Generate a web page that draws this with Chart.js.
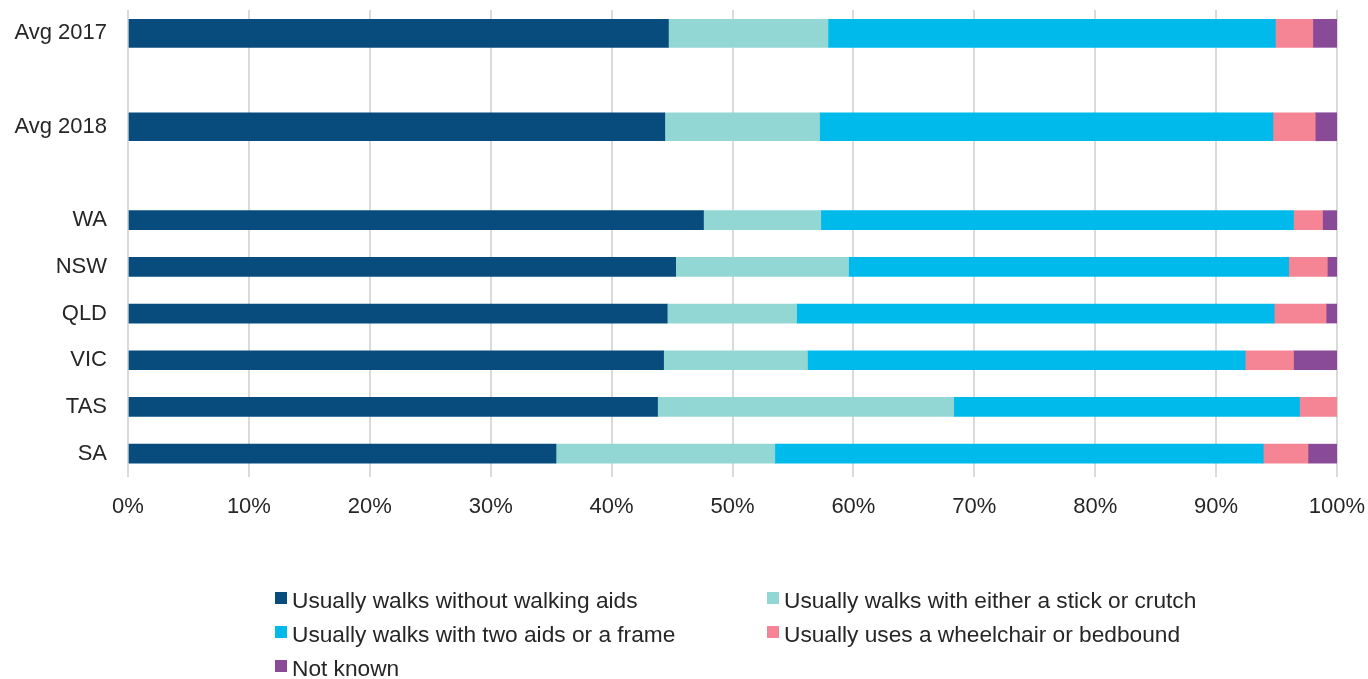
<!DOCTYPE html>
<html>
<head>
<meta charset="utf-8">
<script src="https://cdn.jsdelivr.net/npm/chart.js@4.4.1/dist/chart.umd.min.js"></script>
<style>
  html, body { margin: 0; padding: 0; background: #fff; }
  #wrap { position: relative; width: 1368px; height: 679px; }
  #chart { position: absolute; left: 0; top: 0; }
  .legend { position: absolute; font-family: 'Liberation Sans', Arial, sans-serif; font-size: 22.7px; color: #262626; }
  .legend .item { position: absolute; display: flex; align-items: center; white-space: nowrap; height: 24px; }
  .legend .sw { width: 12px; height: 12px; margin-right: 5px; margin-top: -4px; }
</style>
</head>
<body>
<div id="wrap">
  <canvas id="chart" width="1368" height="679"></canvas>
  <div class="legend" id="legend"></div>
</div>
<script>
// Category rows (blank ones are the gaps between groups)
const categories = ['Avg 2017', '', 'Avg 2018', '', 'WA', 'NSW', 'QLD', 'VIC', 'TAS', 'SA'];

// Share of patients (%) per category
const noAids      = [44.7, null, 44.4, null, 47.6, 45.3, 44.6, 44.3, 43.8, 35.4];
const stickCrutch = [13.2, null, 12.8, null,  9.7, 14.3, 10.7, 11.9, 24.5, 18.1];
const twoAids     = [37.0, null, 37.5, null, 39.1, 36.4, 39.5, 36.2, 28.6, 40.4];
const wheelchair  = [ 3.1, null,  3.5, null,  2.4,  3.2,  4.3,  4.0,  3.1,  3.7];
const notKnown    = [ 2.0, null,  1.8, null,  1.2,  0.8,  0.9,  3.6,  0.0,  2.4];

const seriesNames = [
  'Usually walks without walking aids',
  'Usually walks with either a stick or crutch',
  'Usually walks with two aids or a frame',
  'Usually uses a wheelchair or bedbound',
  'Not known',
];
const seriesColors = ['#074C7D', '#93D7D4', '#00BAEC', '#F58594', '#894B98'];
const xTicks = [0, 10, 20, 30, 40, 50, 60, 70, 80, 90, 100];

const font = { family: "'Liberation Sans', Arial, sans-serif", size: 22 };
const textColor = '#262626';

const allSeries = [noAids, stickCrutch, twoAids, wheelchair, notKnown];
const isAvgRow = (i) => i < 4;

// The average rows use thicker bars than the state rows, so each series is split in two datasets.
const datasets = [];
allSeries.forEach((values, s) => {
  datasets.push({
    label: seriesNames[s],
    data: values.map((v, i) => (isAvgRow(i) ? v : null)),
    backgroundColor: seriesColors[s],
    barThickness: 28,
    stack: 'all',
  });
  datasets.push({
    label: seriesNames[s] + ' (state)',
    data: values.map((v, i) => (isAvgRow(i) ? null : v)),
    backgroundColor: seriesColors[s],
    barThickness: 19,
    stack: 'all',
  });
});

new Chart(document.getElementById('chart'), {
  type: 'bar',
  data: { labels: categories, datasets: datasets },
  options: {
    indexAxis: 'y',
    responsive: false,
    animation: false,
    layout: { padding: { top: 10, right: 31, bottom: 157, left: 0 } },
    plugins: { legend: { display: false }, tooltip: { enabled: false } },
    scales: {
      x: {
        stacked: true,
        min: 0,
        max: 100,
        afterBuildTicks: (scale) => { scale.ticks = xTicks.map((v) => ({ value: v })); },
        afterFit: (scale) => { scale.height = 45; scale.paddingLeft = 0; scale.paddingRight = 0; },
        ticks: { color: textColor, font: font, padding: 17, maxRotation: 0, callback: (v) => v + '%' },
        grid: { color: '#DADADA', lineWidth: 2, drawTicks: false },
        border: { display: false },
      },
      y: {
        stacked: true,
        afterFit: (scale) => { scale.width = 128; scale.paddingTop = 0; scale.paddingBottom = 0; },
        ticks: { color: textColor, font: font, padding: 21, autoSkip: false },
        grid: { display: false, drawTicks: false },
        border: { display: false },
      },
    },
  },
});

// Two-column legend under the chart
const legendPos = [[275, 588], [767, 588], [275, 622], [767, 622], [275, 656]];
const legend = document.getElementById('legend');
seriesNames.forEach((name, i) => {
  const item = document.createElement('div');
  item.className = 'item';
  item.style.left = legendPos[i][0] + 'px';
  item.style.top = legendPos[i][1] + 'px';
  item.innerHTML = '<span class="sw" style="background:' + seriesColors[i] + '"></span><span></span>';
  item.lastChild.textContent = name;
  legend.appendChild(item);
});
</script>
</body>
</html>
